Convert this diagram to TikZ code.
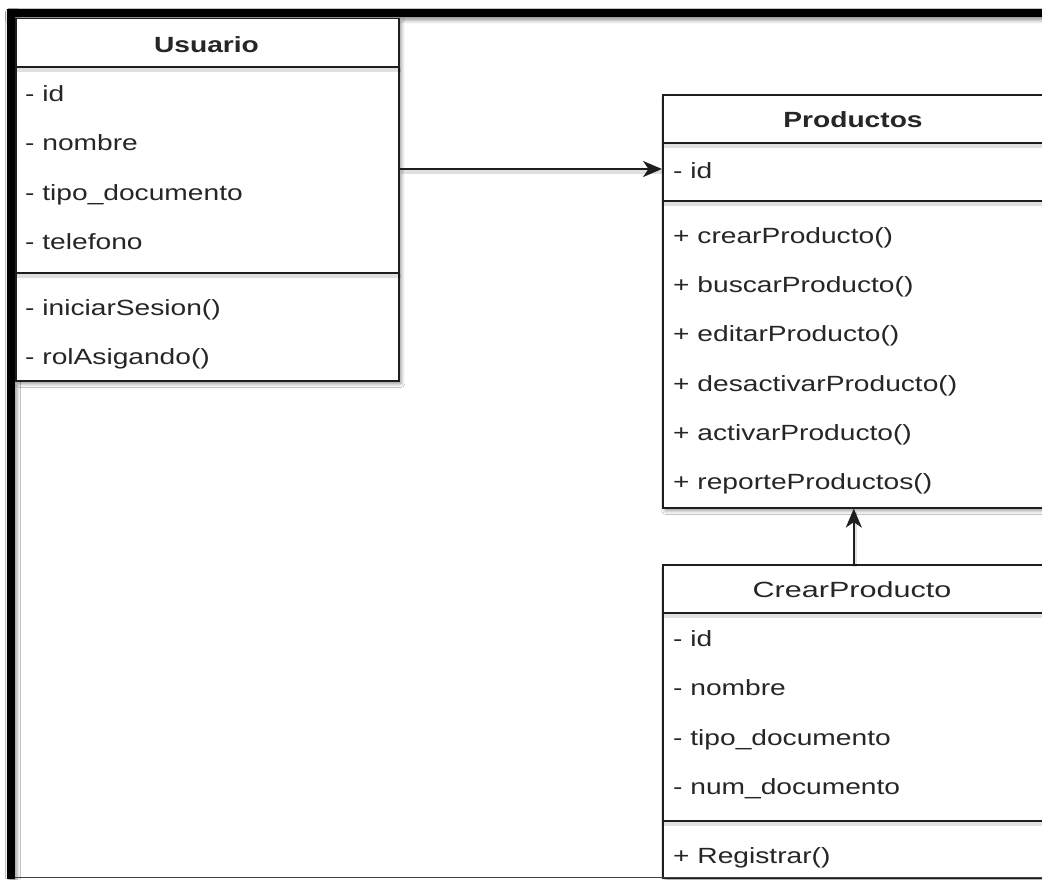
\documentclass[tikz,border=0pt]{standalone}
\usepackage{fontspec}
\newfontfamily\umlfont[FakeStretch=1.28]{Liberation Sans}
\newfontfamily\umlwidefont[FakeStretch=1.39]{Liberation Sans}
\usetikzlibrary{arrows.meta,shadows.blur}
\definecolor{ink}{HTML}{1E1E1E}
\definecolor{txt}{HTML}{262626}
\begin{document}
\begin{tikzpicture}[x=1pt,y=-1pt,
  softshadow/.style={blur shadow={shadow xshift=2.5pt, shadow yshift=-3pt, shadow blur radius=3.5pt, shadow opacity=40}},
  classbox/.style={draw=ink, line width=1.6pt, fill=white, rectangle, inner sep=0pt, anchor=north west, softshadow},
  entry/.style={anchor=base west, inner sep=0pt, text=txt, font=\umlfont\fontsize{22}{26}\selectfont},
  ctitle/.style={anchor=base, inner sep=0pt, text=txt, font=\umlfont\bfseries\fontsize{22}{26}\selectfont},
  ctitleplain/.style={anchor=base, inner sep=0pt, text=txt, font=\umlwidefont\fontsize{22}{26}\selectfont},
  rule/.style={draw=ink, line width=1.6pt},
  ruleshade/.style={draw=black, opacity=0.12, line width=4pt, transform canvas={xshift=1.5pt, yshift=-3pt}},
  link/.style={draw=ink, line width=1.8pt, -{Stealth[length=19pt,width=16pt,inset=5.5pt]}},
]
\useasboundingbox (0,0) rectangle (1042,879);
\fill[white] (0,0) rectangle (1042,879);

% frame
\fill[black, softshadow] (6.5,9) rectangle (1042,17.3);
\fill[black, softshadow] (6.5,9) rectangle (14.5,879);

% class boxes
\node[classbox, minimum width=383pt, minimum height=362.5pt] (usuario) at (15,17.5) {};
\node[classbox, minimum width=382pt, minimum height=413pt] (productos) at (662,94) {};
\node[classbox, minimum width=382pt, minimum height=313pt] (crear) at (662,564) {};

% compartment rules
\foreach \b/\y in {usuario/67, usuario/273, productos/143, productos/201, crear/613, crear/821} {
  \draw[ruleshade] (\b.west |- 0,\y) -- (\b.east |- 0,\y);
  \draw[rule] (\b.west |- 0,\y) -- (\b.east |- 0,\y);
}
\draw[ink!85, line width=1.2pt] (14.5,877.5) -- (1042,877.5);

% Usuario
\node[ctitle] (usuarioT) at (206.5,52) {Usuario};
\node[entry] (u1) at (25,101) {- id};
\node[entry] (u2) at (25,150.5) {- nombre};
\node[entry] (u3) at (25,200) {- tipo\_documento};
\node[entry] (u4) at (25,249.5) {- telefono};
\node[entry] (u5) at (25,315) {- iniciarSesion()};
\node[entry] (u6) at (25,364.5) {- rolAsigando()};

% Productos
\node[ctitle] (productosT) at (853,127) {Productos};
\node[entry] (p1) at (673,178) {- id};
\node[entry] (p2) at (673,243.4) {+ crearProducto()};
\node[entry] (p3) at (673,292.6) {+ buscarProducto()};
\node[entry] (p4) at (673,341.8) {+ editarProducto()};
\node[entry] (p5) at (673,391) {+ desactivarProducto()};
\node[entry] (p6) at (673,440.2) {+ activarProducto()};
\node[entry] (p7) at (673,489.4) {+ reporteProductos()};

% CrearProducto
\node[ctitleplain] (crearT) at (852,597) {CrearProducto};
\node[entry] (c1) at (673,646) {- id};
\node[entry] (c2) at (673,695.5) {- nombre};
\node[entry] (c3) at (673,745) {- tipo\_documento};
\node[entry] (c4) at (673,794.5) {- num\_documento};
\node[entry] (c5) at (673,863) {+ Registrar()};

% associations
\coordinate (idrow) at (662,169);
\draw[ruleshade] (usuario.east |- idrow) -- (productos.west |- idrow);
\draw[link] (usuario.east |- idrow) -- (productos.west |- idrow);
\draw[ruleshade] (crear.north) -- (productos.south);
\draw[link] (crear.north) -- (productos.south);
\end{tikzpicture}
\end{document}
